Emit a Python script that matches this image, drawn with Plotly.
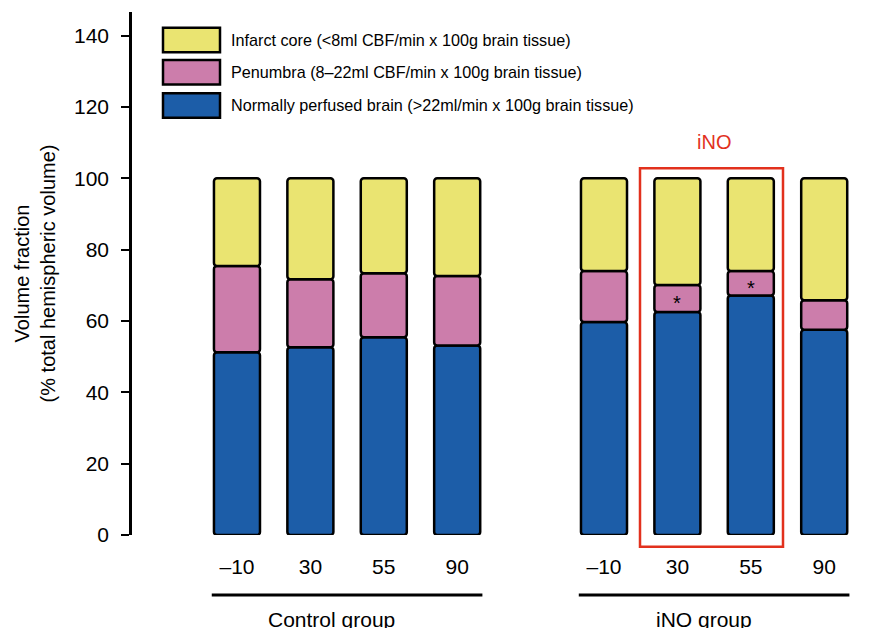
import plotly.graph_objects as go

# ---- data ----
time_labels = ["\u201310", "30", "55", "90", "\u201310", "30", "55", "90"]
groups = ["Control group"] * 4 + ["iNO group"] * 4
normal = [51.2, 52.6, 55.4, 53.1, 59.7, 62.5, 67.1, 57.5]
penumbra = [24.2, 19.1, 18.0, 19.5, 14.3, 7.6, 6.9, 8.3]
infarct = [24.6, 28.3, 26.6, 27.4, 26.0, 29.9, 26.0, 34.2]
significant = [False, False, False, False, False, True, True, False]

series_names = [
    "Infarct core (<8ml CBF/min x 100g brain tissue)",
    "Penumbra (8\u201322ml CBF/min x 100g brain tissue)",
    "Normally perfused brain (>22ml/min x 100g brain tissue)",
]
series_colors = ["#EAE471", "#CC7DAB", "#1C5DA8"]

FONT = "Liberation Sans, Arial, Helvetica, sans-serif"
OFF = 8  # page body margin
W, H = 879, 620
ML, MR, MT, MB = 124, 7, 4, 93
XMIN, XMAX = -1.43, 8.76
YMAX = 146.6

group_names = list(dict.fromkeys(groups))
xpos = []
for i, g in enumerate(groups):
    xpos.append(i + group_names.index(g))

base_pen = normal
base_inf = [a + b for a, b in zip(normal, penumbra)]

fig = go.Figure()
bw = 0.627
line = dict(color="black", width=2.5)
fig.add_trace(go.Bar(x=xpos, y=normal, base=[0] * len(xpos), width=bw, name=series_names[2],
                     marker=dict(color=series_colors[2], line=line, cornerradius=3)))
fig.add_trace(go.Bar(x=xpos, y=penumbra, base=base_pen, width=bw, name=series_names[1],
                     marker=dict(color=series_colors[1], line=line, cornerradius=3)))
fig.add_trace(go.Bar(x=xpos, y=infarct, base=base_inf, width=bw, name=series_names[0],
                     marker=dict(color=series_colors[0], line=line, cornerradius=3)))


def px2paper_x(px):
    return (px - OFF - ML) / (W - ML - MR)


def px2paper_y(py):
    return (H - MB - (py - OFF)) / (H - MT - MB)


def data2paper_x(x):
    return (x - XMIN) / (XMAX - XMIN)


shapes = []
annotations = []

# legend (custom, large swatches)
sw_top = [27.7, 60.0, 93.3]
for i, (name, col) in enumerate(zip(series_names, series_colors)):
    t = sw_top[i]
    shapes.append(dict(type="rect", xref="paper", yref="paper",
                       x0=px2paper_x(163), x1=px2paper_x(220),
                       y0=px2paper_y(t + 24.5), y1=px2paper_y(t),
                       fillcolor=col, line=dict(color="black", width=2.5)))
    annotations.append(dict(xref="paper", yref="paper", x=px2paper_x(229), y=px2paper_y(t + 12),
                            text=name, showarrow=False, xanchor="left", yanchor="middle",
                            font=dict(family=FONT, size=16.2, color="black")))

# group underlines and labels
label_offsets = {"Control group": -0.21, "iNO group": -0.14}
for gname in group_names:
    gx = [x for x, g in zip(xpos, groups) if g == gname]
    x0, x1 = min(gx) - bw / 2 - 0.03, max(gx) + bw / 2 + 0.03
    shapes.append(dict(type="line", xref="paper", yref="paper",
                       x0=data2paper_x(x0), x1=data2paper_x(x1),
                       y0=px2paper_y(595), y1=px2paper_y(595),
                       line=dict(color="black", width=3)))
    annotations.append(dict(xref="paper", yref="paper",
                            x=data2paper_x((min(gx) + max(gx)) / 2 + label_offsets[gname]),
                            y=px2paper_y(619), text=gname, showarrow=False,
                            xanchor="center", yanchor="middle",
                            font=dict(family=FONT, size=21, color="black")))

# iNO highlight box
shapes.append(dict(type="rect", xref="paper", yref="paper",
                   x0=px2paper_x(640), x1=px2paper_x(783),
                   y0=px2paper_y(546.7), y1=px2paper_y(168.3),
                   line=dict(color="#E2311D", width=2.5)))
annotations.append(dict(x=6.5, y=110.3, text="iNO", showarrow=False, xanchor="center",
                        yanchor="middle", font=dict(family=FONT, size=20, color="#E2311D")))

# significance asterisks
for x, n, p, s in zip(xpos, normal, penumbra, significant):
    if s:
        annotations.append(dict(x=x, y=n + p / 2 - 1.3, text="*", showarrow=False,
                                xanchor="center", yanchor="middle",
                                font=dict(family=FONT, size=20, color="black")))

fig.update_layout(
    width=W, height=H,
    margin=dict(l=ML, r=MR, t=MT, b=MB),
    plot_bgcolor="white", paper_bgcolor="white",
    barmode="overlay", showlegend=False,
    font=dict(family=FONT, size=20, color="black"),
    shapes=shapes, annotations=annotations,
)
fig.update_xaxes(range=[XMIN, XMAX], tickvals=xpos, ticktext=time_labels,
                 showline=False, showgrid=False, zeroline=False, ticks="",
                 ticklabelstandoff=17, tickfont=dict(family=FONT, size=21))
fig.update_yaxes(range=[0, YMAX], tickvals=[0, 20, 40, 60, 80, 100, 120, 140],
                 showline=True, linecolor="black", linewidth=2.5,
                 ticks="outside", ticklen=8, tickwidth=2, tickcolor="black",
                 showgrid=False, zeroline=False, ticklabelstandoff=8,
                 tickfont=dict(family=FONT, size=21),
                 title=dict(text="Volume fraction<br>(% total hemispheric volume)",
                            font=dict(family=FONT, size=20), standoff=14))

fig.write_html("out.html")
